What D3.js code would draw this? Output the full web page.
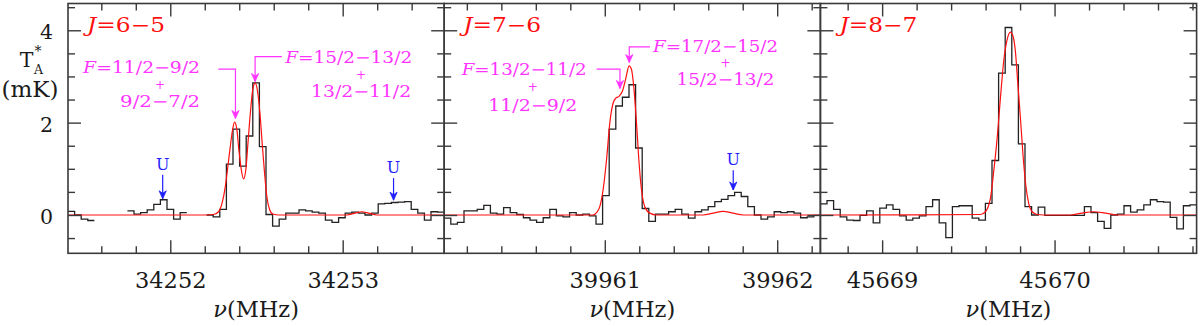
<!DOCTYPE html>
<html><head><meta charset="utf-8">
<script src="https://cdn.jsdelivr.net/npm/d3@7"></script>
<style>
body{margin:0;background:#fff;}
svg{display:block;}
text{font-family:"DejaVu Serif",serif;}
</style></head><body>
<svg id="c" width="1200" height="326"></svg>
<script>
// ---------------- data ----------------
const transitions = ["6\u22125", "7\u22126", "8\u22127"];
const startFreq = [34251.4068, 39960.0686, 45668.6419]; // first channel (MHz)
const chanWidth = 0.03828;                               // MHz
const nChan = 57;
const xTickMajor = [[34252, 34253], [39961, 39962], [45669, 45670]];
const yTickMajor = [0, 2, 4];

const spec1 = [0.08, 0.0, -0.09, -0.12, null, null, null, null, null, 0.09, 0.02, 0.05, 0.11, 0.23, 0.33, 0.12, -0.09, 0.05, null, null, null,
  0.0, -0.04, 0.12, 1.1, 1.86, 1.06, 1.71, 2.86, 1.48, 0.01, -0.24, -0.09, 0.04, 0.04, 0.11, 0.09, 0.06, 0.04, -0.11, -0.16, -0.06, 0.04,
  0.06, 0.04, 0.0, 0.04, 0.24, 0.25, 0.27, 0.28, 0.29, 0.12, 0.04, -0.11, 0.07, 0.06];
const spec2 = [-0.07, -0.20, -0.16, 0.09, 0.09, 0.12, 0.21, 0.04, 0.02, 0.16, 0.05, 0.01, -0.06, -0.11, -0.16, -0.06, 0.12, -0.02, -0.04, 0.05,
  0.0, 0.02, -0.02, -0.20, 0.42, 1.86, 2.36, 2.55, 2.82, 1.45, 0.14, -0.14, 0.02, 0.02, 0.07, 0.12, 0.02, -0.07, 0.07, 0.11,
  0.18, 0.29, 0.34, 0.42, 0.49, 0.40, 0.18, 0.0, -0.09, -0.04, 0.07, 0.05, 0.07, 0.04, -0.06, -0.04, -0.01];
const spec3 = [0.24, 0.31, 0.12, -0.04, -0.11, -0.12, -0.01, 0.09, -0.17, 0.15, 0.22, 0.12, -0.02, -0.11, -0.07, -0.02, 0.18, 0.33, -0.17, -0.49,
  0.18, 0.20, 0.20, -0.07, -0.11, 0.25, 1.18, 3.07, 4.06, 3.25, 1.54, 0.18, 0.0, 0.17, -0.01, -0.01, -0.01, -0.01, -0.01, -0.01,
  0.18, 0.05, -0.14, -0.29, 0.0, 0.02, 0.20, 0.06, 0.11, 0.22, 0.33, 0.29, 0.28, -0.05, -0.30, 0.20, 0.22];

const fit1F = [34251.409, 34252.213, 34252.251, 34252.280, 34252.300, 34252.319, 34252.334, 34252.348, 34252.361, 34252.373, 34252.385,
  34252.398, 34252.412, 34252.425, 34252.439, 34252.452, 34252.466, 34252.479, 34252.493, 34252.506, 34252.520, 34252.533, 34252.547,
  34252.560, 34252.576, 34252.595, 34252.628, 34253.024, 34253.072, 34253.111, 34253.150, 34253.198, 34253.590];
const fit1T = [0, 0, 0.01, 0.07, 0.25, 0.61, 1.05, 1.48, 1.84, 2.01, 1.88, 1.41, 0.98, 0.78, 1.01, 1.63, 2.28, 2.73, 2.86, 2.68, 2.21,
  1.55, 0.90, 0.40, 0.12, 0.02, 0, 0, 0.04, 0.07, 0.04, 0, 0];
const fit2F = [39960.067, 39960.932, 39960.952, 39960.971, 39960.990, 39961.010, 39961.029, 39961.048, 39961.064, 39961.083, 39961.102,
  39961.122, 39961.141, 39961.155, 39961.168, 39961.184, 39961.199, 39961.213, 39961.232, 39961.261, 39961.300, 39961.570, 39961.628,
  39961.686, 39961.744, 39961.802, 39962.251];
const fit2T = [0, 0, 0.05, 0.18, 0.54, 1.19, 1.99, 2.42, 2.53, 2.57, 2.68, 2.96, 3.23, 3.15, 2.78, 1.99, 1.12, 0.54, 0.18, 0.04, 0, 0,
  0.04, 0.08, 0.04, 0, 0];
const fit3F = [45668.642, 45669.570, 45669.599, 45669.628, 45669.647, 45669.667, 45669.686, 45669.705, 45669.725, 45669.744, 45669.759,
  45669.773, 45669.786, 45669.802, 45669.817, 45669.833, 45669.850, 45669.870, 45669.899, 45669.937, 45670.092, 45670.159, 45670.227,
  45670.295, 45670.362, 45670.825];
const fit3T = [0, 0.01, 0.07, 0.36, 0.94, 1.66, 2.53, 3.33, 3.80, 3.96, 3.87, 3.54, 2.89, 2.10, 1.30, 0.65, 0.25, 0.07, 0.01, 0, 0,
  0.04, 0.07, 0.04, 0, 0];

// hyperfine labels: panel, freq, T (baseline), anchor, [text, italic] parts, width
const hfsLabels = [
  {p: 0, f: 34252.173, t: 3.08, a: "end", s: [["F", 1], ["=11/2\u22129/2", 0]], w: 117},
  {p: 0, f: 34251.941, t: 2.735, a: "middle", s: [["+", 0]], plus: 1},
  {p: 0, f: 34251.941, t: 2.345, a: "middle", s: [["9/2\u22127/2", 0]], w: 80},
  {p: 0, f: 34253.403, t: 3.29, a: "end", s: [["F", 1], ["=15/2\u221213/2", 0]], w: 127},
  {p: 0, f: 34253.107, t: 2.945, a: "middle", s: [["+", 0]], plus: 1},
  {p: 0, f: 34253.107, t: 2.555, a: "middle", s: [["13/2\u221211/2", 0]], w: 100},
  {p: 1, f: 39960.895, t: 3.03, a: "end", s: [["F", 1], ["=13/2\u221211/2", 0]], w: 125},
  {p: 1, f: 39960.582, t: 2.68, a: "middle", s: [["+", 0]], plus: 1},
  {p: 1, f: 39960.582, t: 2.25, a: "middle", s: [["11/2\u22129/2", 0]], w: 89},
  {p: 1, f: 39962.005, t: 3.54, a: "end", s: [["F", 1], ["=17/2\u221215/2", 0]], w: 125},
  {p: 1, f: 39961.700, t: 3.195, a: "middle", s: [["+", 0]], plus: 1},
  {p: 1, f: 39961.700, t: 2.81, a: "middle", s: [["15/2\u221213/2", 0]], w: 98}
];
// hyperfine arrows: panel, [freq,T] tail, knee, tip
const hfsArrows = [
  {p: 0, pts: [[34252.279, 3.16], [34252.378, 3.16], [34252.378, 2.09]]},
  {p: 0, pts: [[34252.647, 3.43], [34252.492, 3.43], [34252.492, 2.89]]},
  {p: 1, pts: [[39960.953, 3.16], [39961.088, 3.16], [39961.088, 2.74]]},
  {p: 1, pts: [[39961.262, 3.64], [39961.142, 3.64], [39961.142, 3.30]]}
];
// unidentified features: panel, freq, T text baseline, arrow start, arrow tip
const uFeatures = [
  {p: 0, f: 34251.956, tText: 0.97, t0: 0.87, t1: 0.35},
  {p: 0, f: 34253.295, tText: 0.91, t0: 0.80, t1: 0.32},
  {p: 1, f: 39961.745, tText: 1.08, t0: 0.97, t1: 0.54}
];

// ---------------- layout ----------------
const panelLeft = [68, 444.2, 820.4], panelW = 376.2;
const yTop = 3.5, yBot = 253.3;
const RED = "#ff1010", MAG = "#ff33ff", BLUE = "#1f1fff", FRAME = "#3a3a3a";

const svg = d3.select("#c");
const yS = d3.scaleLinear().domain([-0.83, 4.58]).range([yBot, yTop]);
const specs = [spec1, spec2, spec3];
const fitsF = [fit1F, fit2F, fit3F], fitsT = [fit1T, fit2T, fit3T];
const yMinor = d3.range(-0.5, 4.55, 0.5).map(v => Math.round(v * 10) / 10).filter(v => !yTickMajor.includes(v));
const xScales = [];

panelLeft.forEach((x0, i) => {
  const x1 = x0 + panelW;
  const f0 = startFreq[i];
  const xS = d3.scaleLinear().domain([f0, f0 + nChan * chanWidth]).range([x0, x1]);
  xScales.push(xS);
  const g = svg.append("g");
  const cid = "clip" + i;
  svg.append("clipPath").attr("id", cid).append("rect")
    .attr("x", x0).attr("y", yTop).attr("width", panelW).attr("height", yBot - yTop);

  // histogram
  const pts = [];
  specs[i].forEach((v, k) => {
    if (v === null) pts.push(null);
    else { pts.push([f0 + k * chanWidth, v]); pts.push([f0 + (k + 1) * chanWidth, v]); }
  });
  const line = d3.line().defined(d => d !== null).x(d => xS(d[0])).y(d => yS(d[1]));
  g.append("path").attr("clip-path", `url(#${cid})`).attr("d", line(pts))
    .attr("fill", "none").attr("stroke", "#222").attr("stroke-width", 1.3);

  // fit
  const fitPts = fitsF[i].map((f, k) => [f, fitsT[i][k]]);
  g.append("path").attr("clip-path", `url(#${cid})`)
    .attr("d", d3.line().curve(d3.curveMonotoneX).x(d => xS(d[0])).y(d => yS(d[1]))(fitPts))
    .attr("fill", "none").attr("stroke", RED).attr("stroke-width", 1.2);

  // ticks
  const lo = xS.domain()[0], hi = xS.domain()[1];
  const xMinor = d3.range(Math.ceil(lo * 5) / 5, hi, 0.2).map(v => Math.round(v * 10) / 10)
    .filter(v => !xTickMajor[i].includes(v));
  const addAxis = (axis, tx, ty) => {
    const a = g.append("g").attr("transform", `translate(${tx},${ty})`).call(axis);
    a.select(".domain").remove();
    a.selectAll("line").attr("stroke", FRAME).attr("stroke-width", 1.4);
    a.selectAll("text").remove();
  };
  [[yMinor, 7], [yTickMajor, 13]].forEach(([vals, len]) => {
    addAxis(d3.axisRight(yS).tickValues(vals).tickSize(len), x0, 0);
    addAxis(d3.axisLeft(yS).tickValues(vals).tickSize(len), x1, 0);
  });
  [[xMinor, 7], [xTickMajor[i], 13]].forEach(([vals, len]) => {
    addAxis(d3.axisTop(xS).tickValues(vals).tickSize(len), 0, yBot);
    addAxis(d3.axisBottom(xS).tickValues(vals).tickSize(len), 0, yTop);
  });

  // x tick labels
  const xl = g.append("g").attr("transform", `translate(0,${yBot})`)
    .call(d3.axisBottom(xS).tickValues(xTickMajor[i]).tickSize(0).tickPadding(19).tickFormat(d3.format("d")));
  xl.select(".domain").remove();
  xl.selectAll("text").attr("font-family", "DejaVu Serif").attr("font-size", 22.5).attr("fill", "#1a1a1a");

  // frame
  g.append("rect").attr("x", x0).attr("y", yTop).attr("width", panelW).attr("height", yBot - yTop)
    .attr("fill", "none").attr("stroke", FRAME).attr("stroke-width", 1.6);

  // J label
  const jt = g.append("text").attr("x", x0 + 19).attr("y", 32).attr("fill", RED).attr("font-size", 19.5)
    .attr("textLength", 78).attr("lengthAdjust", "spacingAndGlyphs");
  jt.append("tspan").attr("font-style", "italic").text("J");
  jt.append("tspan").text("=" + transitions[i]);

  // x axis title
  const xt = g.append("text").attr("x", x0 + panelW / 2).attr("y", 316.7).attr("text-anchor", "middle")
    .attr("font-size", 22.5).attr("fill", "#1a1a1a");
  xt.append("tspan").attr("font-style", "italic").text("\u03bd");
  xt.append("tspan").text("(MHz)");
});

// y tick labels (panel 1 only)
const yl = svg.append("g").attr("transform", `translate(${panelLeft[0]},0)`)
  .call(d3.axisLeft(yS).tickValues(yTickMajor).tickSize(0).tickPadding(15).tickFormat(d3.format("d")));
yl.select(".domain").remove();
yl.selectAll("text").attr("font-family", "DejaVu Serif").attr("font-size", 20.5).attr("fill", "#1a1a1a").attr("dy", "0.42em");

// y axis title
svg.append("text").attr("x", 26.7).attr("y", 66.7).attr("text-anchor", "middle").attr("font-size", 20.5).attr("fill", "#1a1a1a").text("T");
svg.append("text").attr("x", 38).attr("y", 56).attr("text-anchor", "middle").attr("font-size", 14).attr("fill", "#1a1a1a").text("*");
svg.append("text").attr("x", 38.5).attr("y", 73.5).attr("text-anchor", "middle").attr("font-size", 12.5).attr("fill", "#1a1a1a").text("A");
svg.append("text").attr("x", 30).attr("y", 96.7).attr("text-anchor", "middle").attr("font-size", 22).attr("fill", "#1a1a1a")
  .attr("textLength", 57).attr("lengthAdjust", "spacingAndGlyphs").text("(mK)");

// hyperfine labels
hfsLabels.forEach(d => {
  const xS = xScales[d.p];
  const t = svg.append("text").attr("x", xS(d.f)).attr("y", yS(d.t)).attr("text-anchor", d.a)
    .attr("font-size", d.plus ? 12 : 16).attr("fill", MAG);
  if (d.w) t.attr("textLength", d.w).attr("lengthAdjust", "spacingAndGlyphs");
  d.s.forEach(([s, it]) => t.append("tspan").attr("font-style", it ? "italic" : "normal").text(s));
});

const arrowHead = (gSel, x, y, col) => {
  gSel.append("path").attr("d", `M${x},${y} L${x - 3.6},${y - 8} L${x},${y - 5.5} L${x + 3.6},${y - 8} Z`)
    .attr("fill", col).attr("stroke", col).attr("stroke-width", 0.8).attr("stroke-linejoin", "miter");
};
hfsArrows.forEach(d => {
  const xS = xScales[d.p];
  const p = d.pts.map(q => [xS(q[0]), yS(q[1])]);
  svg.append("path").attr("d", d3.line()(p)).attr("fill", "none").attr("stroke", MAG).attr("stroke-width", 1.2);
  arrowHead(svg, p[2][0], p[2][1], MAG);
});

// U features
uFeatures.forEach(d => {
  const xS = xScales[d.p];
  const x = xS(d.f);
  svg.append("text").attr("x", x).attr("y", yS(d.tText)).attr("text-anchor", "middle")
    .attr("font-size", 16).attr("fill", BLUE).text("U");
  svg.append("line").attr("x1", x).attr("x2", x).attr("y1", yS(d.t0)).attr("y2", yS(d.t1))
    .attr("stroke", BLUE).attr("stroke-width", 1.2);
  arrowHead(svg, x, yS(d.t1), BLUE);
});
</script>
</body></html>
